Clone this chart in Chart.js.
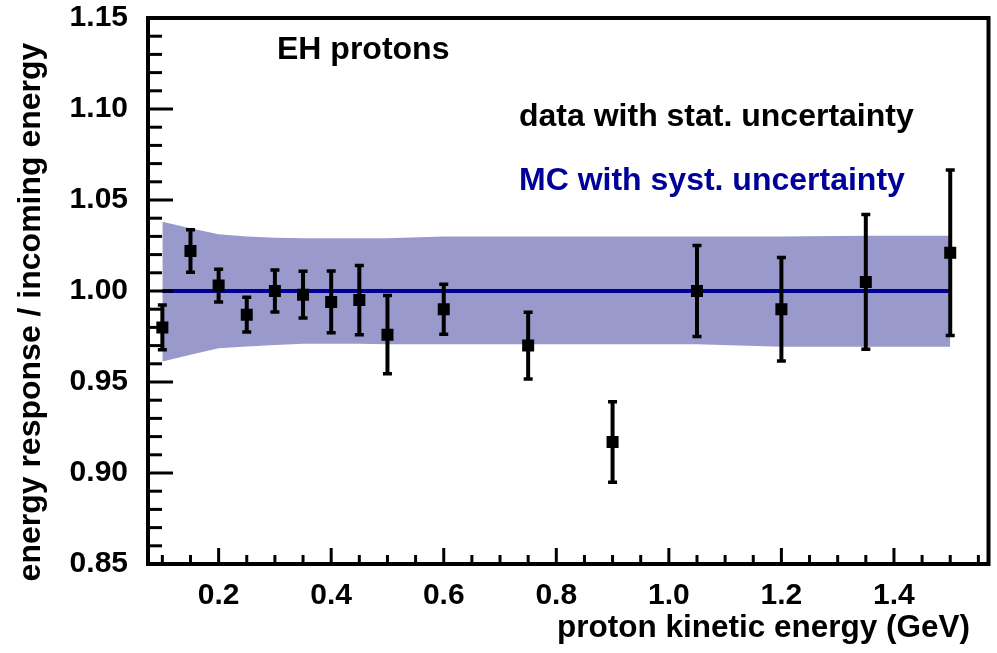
<!DOCTYPE html>
<html>
<head>
<meta charset="utf-8">
<script src="https://cdn.jsdelivr.net/npm/chart.js@4.4.1/dist/chart.umd.min.js"></script>
<style>
  html, body { margin: 0; padding: 0; background: #ffffff; }
  #wrap { width: 997px; height: 653px; position: relative; }
  canvas { display: block; }
</style>
</head>
<body>
<div id="wrap"><canvas id="c" width="997" height="653"></canvas></div>
<script>
// ---- data ----
const energies   = [0.10, 0.15, 0.20, 0.25, 0.30, 0.35, 0.40, 0.45, 0.50, 0.60, 0.75, 0.90, 1.05, 1.20, 1.35, 1.50];
const response   = [0.980, 1.022, 1.003, 0.987, 1.000, 0.998, 0.994, 0.995, 0.976, 0.990, 0.970, 0.917, 1.000, 0.990, 1.005, 1.021];
const statErr    = [0.0123, 0.0117, 0.0090, 0.0095, 0.0115, 0.0128, 0.0170, 0.0190, 0.0215, 0.0137, 0.0183, 0.0221, 0.0250, 0.0284, 0.0370, 0.0455];
const mcCentral  = [1.000, 1.000, 1.000, 1.000, 1.000, 1.000, 1.000, 1.000, 1.000, 1.000, 1.000, 1.000, 1.000, 1.000, 1.000, 1.000];
const mcSystUp   = [1.0380, 1.0345, 1.0312, 1.0300, 1.0293, 1.0290, 1.0290, 1.0290, 1.0290, 1.0300, 1.0300, 1.0300, 1.0300, 1.0300, 1.0304, 1.0304];
const mcSystDown = [0.9612, 0.9650, 0.9685, 0.9695, 0.9703, 0.9710, 0.9710, 0.9710, 0.9707, 0.9707, 0.9707, 0.9707, 0.9707, 0.9694, 0.9694, 0.9694];
const xTickLabels = [0.2, 0.4, 0.6, 0.8, 1.0, 1.2, 1.4];
const yTickLabels = [0.85, 0.90, 0.95, 1.00, 1.05, 1.10, 1.15];
const xMinorStep = 0.05;
const yMinorStep = 0.01;

const FONT = '"Liberation Sans", Arial, Helvetica, sans-serif';
const BAND = 'rgb(153,153,204)';
const MCBLUE = '#000099';
const TARGET_TOP = 18;

const pts = (ys) => energies.map((x, i) => ({ x: x, y: ys[i] }));

const decorPlugin = {
  id: 'decor',
  afterDatasetsDraw(chart) {
    const ctx = chart.ctx;
    const xs = chart.scales.x, ys = chart.scales.y;
    ctx.save();
    ctx.strokeStyle = '#000';
    ctx.lineCap = 'butt';
    energies.forEach((e, i) => {
      const px = xs.getPixelForValue(e);
      const top = ys.getPixelForValue(response[i] + statErr[i]);
      const bot = ys.getPixelForValue(response[i] - statErr[i]);
      ctx.lineWidth = 4;
      ctx.beginPath();
      ctx.moveTo(px, top); ctx.lineTo(px, bot);
      ctx.stroke();
      ctx.lineWidth = 3.5;
      ctx.beginPath();
      ctx.moveTo(px - 4.5, top); ctx.lineTo(px + 4.5, top);
      ctx.moveTo(px - 4.5, bot); ctx.lineTo(px + 4.5, bot);
      ctx.stroke();
    });
    ctx.restore();
  },
  afterDraw(chart) {
    const ctx = chart.ctx;
    const xs = chart.scales.x, ys = chart.scales.y;
    const ca = chart.chartArea;
    ctx.save();
    ctx.strokeStyle = '#000';
    ctx.lineWidth = 3;
    for (let k = 0; ; k++) {
      const v = Math.round((ys.min + k * yMinorStep) * 1000) / 1000;
      if (v > ys.max + 1e-9) break;
      const isMajor = yTickLabels.some(t => Math.abs(t - v) < 1e-6);
      const py = ys.getPixelForValue(v);
      ctx.beginPath();
      ctx.moveTo(ca.left, py);
      ctx.lineTo(ca.left + (isMajor ? 25 : 14), py);
      ctx.stroke();
    }
    for (let k = 0; ; k++) {
      const v = Math.round((0.1 + k * xMinorStep) * 1000) / 1000;
      if (v > xs.max + 1e-9) break;
      const isMajor = xTickLabels.some(t => Math.abs(t - v) < 1e-6);
      const px = xs.getPixelForValue(v);
      ctx.beginPath();
      ctx.moveTo(px, ca.bottom);
      ctx.lineTo(px, ca.bottom - (isMajor ? 16 : 9));
      ctx.stroke();
    }
    ctx.lineWidth = 4;
    ctx.strokeRect(ca.left, ca.top, ca.right - ca.left, ca.bottom - ca.top);

    ctx.fillStyle = '#000';
    ctx.textBaseline = 'middle';
    ctx.font = 'bold 32px ' + FONT;
    ctx.textAlign = 'left';
    ctx.fillText('EH protons', 277, 50);
    ctx.fillText('data with stat. uncertainty', 519, 117);
    ctx.fillStyle = MCBLUE;
    ctx.fillText('MC with syst. uncertainty', 519, 181);
    ctx.fillStyle = '#000';
    ctx.textAlign = 'right';
    ctx.font = 'bold 31.5px ' + FONT;
    ctx.fillText('proton kinetic energy (GeV)', 970, 628);
    ctx.font = 'bold 32px ' + FONT;
    ctx.save();
    ctx.translate(31, 312);
    ctx.rotate(-Math.PI / 2);
    ctx.textAlign = 'center';
    ctx.fillText('energy response / incoming energy', 0, 0);
    ctx.restore();
    ctx.restore();
  }
};

const chart = new Chart(document.getElementById('c'), {
  type: 'scatter',
  data: {
    datasets: [
      {
        label: 'MC syst. low',
        data: pts(mcSystDown),
        showLine: true,
        borderWidth: 0,
        borderColor: 'rgba(0,0,0,0)',
        pointRadius: 0,
        fill: false,
        tension: 0,
        order: 3
      },
      {
        label: 'MC with syst. uncertainty',
        data: pts(mcSystUp),
        showLine: true,
        borderWidth: 0,
        borderColor: 'rgba(0,0,0,0)',
        backgroundColor: BAND,
        pointRadius: 0,
        fill: '-1',
        tension: 0,
        order: 2
      },
      {
        label: 'MC',
        data: pts(mcCentral),
        showLine: true,
        borderWidth: 4,
        borderColor: MCBLUE,
        pointRadius: 0,
        fill: false,
        tension: 0,
        order: 1
      },
      {
        label: 'data with stat. uncertainty',
        data: pts(response),
        showLine: false,
        pointStyle: 'rect',
        pointRadius: 8.5,
        pointBackgroundColor: '#000',
        pointBorderColor: '#000',
        pointBorderWidth: 0,
        order: 0
      }
    ]
  },
  options: {
    responsive: false,
    animation: false,
    devicePixelRatio: 1,
    layout: { padding: { left: 0, right: 6.5, top: 18, bottom: 0 } },
    plugins: {
      legend: { display: false },
      tooltip: { enabled: false },
      title: { display: false }
    },
    scales: {
      x: {
        type: 'linear',
        min: 0.0745,
        max: 1.568,
        grid: { display: false, drawTicks: false, tickLength: 0 },
        border: { display: false },
        afterBuildTicks: (s) => { s.ticks = xTickLabels.map(v => ({ value: v })); },
        afterFit: (s) => { s.height = 89; },
        ticks: {
          autoSkip: false,
          maxRotation: 0,
          padding: 14,
          color: '#000',
          font: { family: FONT, size: 30, weight: 'bold' },
          callback: (v) => Number(v).toFixed(1)
        }
      },
      y: {
        type: 'linear',
        min: 0.85,
        max: 1.15,
        grid: { display: false, drawTicks: false, tickLength: 0 },
        border: { display: false },
        afterBuildTicks: (s) => { s.ticks = yTickLabels.map(v => ({ value: v })); },
        afterFit: (s) => { s.width = 148; s.paddingTop = 0; s.paddingBottom = 0; },
        ticks: {
          autoSkip: false,
          padding: 20,
          color: '#000',
          font: { family: FONT, size: 30, weight: 'bold' },
          callback: (v) => Number(v).toFixed(2)
        }
      }
    }
  },
  plugins: [decorPlugin]
});
// nudge the layout padding until the plot frame's top edge sits where the reference has it
for (let i = 0; i < 4; i++) {
  const diff = TARGET_TOP - chart.chartArea.top;
  if (Math.abs(diff) < 0.5) break;
  chart.options.layout.padding.top = Math.max(0, chart.options.layout.padding.top + diff);
  chart.update();
}
</script>
</body>
</html>
